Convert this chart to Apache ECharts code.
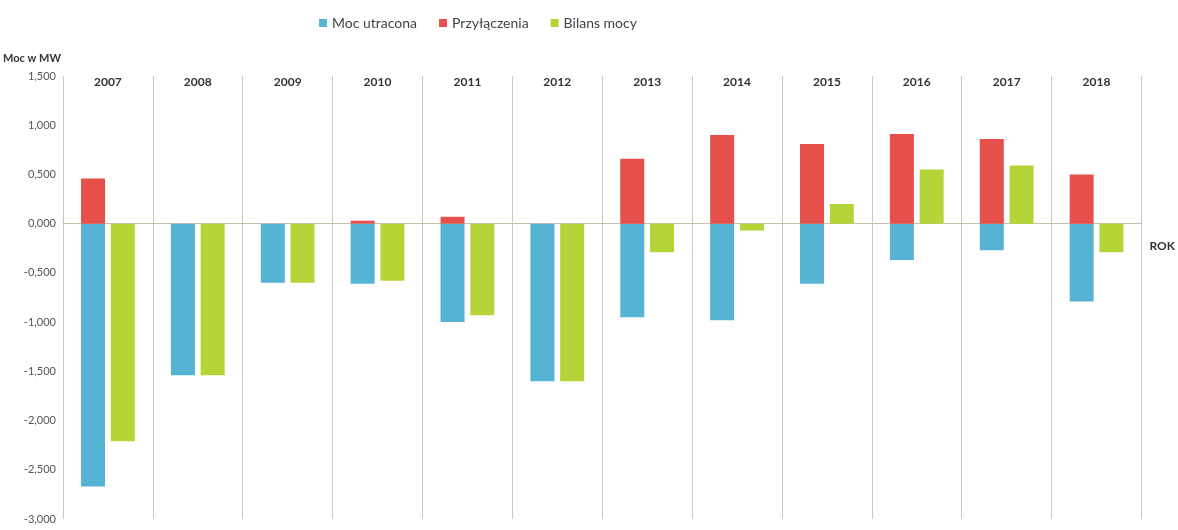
<!DOCTYPE html>
<html>
<head>
<meta charset="utf-8">
<script src="https://cdn.jsdelivr.net/npm/echarts@6/dist/echarts.min.js"></script>
<style>
html,body{margin:0;padding:0;background:#fff;}
#chart{width:1178px;height:530px;}
</style>
</head>
<body>
<div id="chart"></div>
<script>
// Years (categories)
const years = ['2007','2008','2009','2010','2011','2012','2013','2014','2015','2016','2017','2018'];
// Moc utracona (MW)
const mocUtracona = [-2670, -1540, -600, -610, -1000, -1600, -950, -980, -610, -370, -270, -790];
// Przyłączenia (MW)
const przylaczenia = [460, 0, 0, 30, 70, 0, 660, 900, 810, 910, 860, 500];
// Bilans mocy (MW)
const bilansMocy = [-2210, -1540, -600, -580, -930, -1600, -290, -70, 200, 550, 590, -290];
// Y-axis tick range
const yMin = -3000, yMax = 1500, yStep = 500;

const chart = echarts.init(document.getElementById('chart'));
const font = 'Lato, "Open Sans", "Liberation Sans", sans-serif';
chart.setOption({
  animation: false,
  backgroundColor: '#ffffff',
  textStyle: { fontFamily: font },
  legend: {
    top: 11, left: 314,
    icon: 'rect', itemWidth: 8, itemHeight: 8, itemGap: 22,
    textStyle: { fontSize: 14, color: '#444', fontFamily: font },
    data: ['Moc utracona', 'Przyłączenia', 'Bilans mocy']
  },
  grid: { left: 62, right: 36, top: 76, bottom: 11 },
  xAxis: [
    {
      type: 'category', data: years, position: 'top',
      axisLine: { show: false, onZero: false },
      axisTick: { show: false },
      axisLabel: { fontWeight: 'bold', fontSize: 12, color: '#333', margin: -12, fontFamily: font },
      splitLine: { show: true, lineStyle: { color: '#c9c9c9', width: 1 } }
    },
    {
      type: 'category', data: years, position: 'bottom',
      axisLine: { show: true, onZero: true, lineStyle: { color: '#cbbfae', width: 1 } },
      axisTick: { show: false },
      axisLabel: { show: false },
      splitLine: { show: false },
      name: 'ROK', nameLocation: 'end', nameGap: 8,
      nameTextStyle: { fontWeight: 'bold', fontSize: 12, color: '#333', verticalAlign: 'top', padding: [16, 0, 0, 0], fontFamily: font }
    }
  ],
  yAxis: {
    type: 'value', min: yMin, max: yMax, interval: yStep,
    name: 'Moc w MW', nameLocation: 'end', nameGap: 12,
    nameTextStyle: { fontWeight: 'bold', fontSize: 11, color: '#333', align: 'right', padding: [0, 2, 0, 0], fontFamily: font },
    axisLine: { show: false }, axisTick: { show: false },
    splitLine: { show: false },
    axisLabel: {
      fontSize: 11, color: '#555', margin: 7, fontFamily: font,
      formatter: v => (v / 1000).toFixed(3).replace('.', ',')
    }
  },
  series: [
    { name: 'Moc utracona', type: 'bar', stack: 'a', data: mocUtracona, barWidth: 24, barGap: '24%',
      itemStyle: { color: '#56b3d3' } },
    { name: 'Przyłączenia', type: 'bar', stack: 'a', data: przylaczenia, barWidth: 24, barGap: '24%',
      itemStyle: { color: '#e6504a' } },
    { name: 'Bilans mocy', type: 'bar', data: bilansMocy, barWidth: 24, barGap: '24%',
      itemStyle: { color: '#b5d437' } }
  ]
});
</script>
</body>
</html>
